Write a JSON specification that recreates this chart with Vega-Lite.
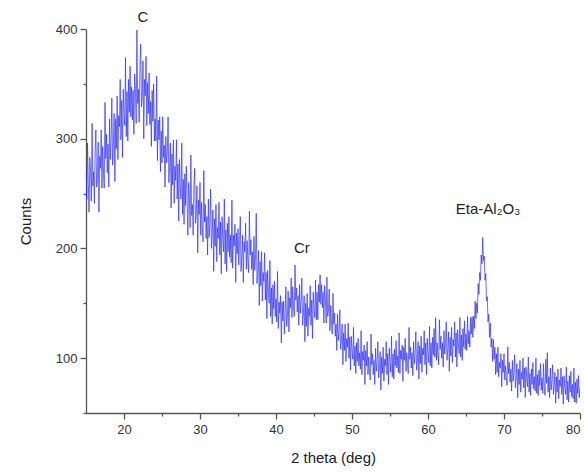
{
  "$schema": "https://vega.github.io/schema/vega-lite/v6.json",
  "autosize": {"type": "none"},
  "width": 494,
  "height": 384,
  "padding": {"left": 86, "top": 29, "right": 4, "bottom": 61},
  "background": "white",
  "config": {
    "view": {"stroke": null},
    "font": "Liberation Sans",
    "axis": {"domainColor": "#555", "tickColor": "#555", "labelColor": "#333", "titleColor": "#222", "labelFont": "Liberation Sans", "titleFont": "Liberation Sans", "labelFontSize": 13, "titleFontSize": 15, "titleFontWeight": "normal", "grid": false, "domainWidth": 1.3, "tickWidth": 1.3, "ticks": true}
  },
  "layer": [
    {
      "data": {"values": [
{"t":15.0,"c":273},{"t":15.1,"c":245},{"t":15.2,"c":296},{"t":15.3,"c":261},{"t":15.4,"c":233},{"t":15.5,"c":283},{"t":15.6,"c":271},{"t":15.7,"c":243},{"t":15.8,"c":314},{"t":15.9,"c":257},
{"t":16.0,"c":270},{"t":16.1,"c":241},{"t":16.2,"c":289},{"t":16.3,"c":308},{"t":16.4,"c":256},{"t":16.5,"c":265},{"t":16.6,"c":297},{"t":16.7,"c":233},{"t":16.8,"c":284},{"t":16.9,"c":273},
{"t":17.0,"c":308},{"t":17.1,"c":255},{"t":17.2,"c":293},{"t":17.3,"c":270},{"t":17.4,"c":255},{"t":17.5,"c":333},{"t":17.6,"c":282},{"t":17.7,"c":304},{"t":17.8,"c":269},{"t":17.9,"c":295},
{"t":18.0,"c":256},{"t":18.1,"c":318},{"t":18.2,"c":281},{"t":18.3,"c":299},{"t":18.4,"c":337},{"t":18.5,"c":276},{"t":18.6,"c":294},{"t":18.7,"c":323},{"t":18.8,"c":261},{"t":18.9,"c":318},
{"t":19.0,"c":291},{"t":19.1,"c":339},{"t":19.2,"c":281},{"t":19.3,"c":321},{"t":19.4,"c":311},{"t":19.5,"c":354},{"t":19.6,"c":299},{"t":19.7,"c":335},{"t":19.8,"c":283},{"t":19.9,"c":345},
{"t":20.0,"c":323},{"t":20.1,"c":312},{"t":20.2,"c":374},{"t":20.3,"c":302},{"t":20.4,"c":343},{"t":20.5,"c":298},{"t":20.6,"c":354},{"t":20.7,"c":324},{"t":20.8,"c":366},{"t":20.9,"c":320},
{"t":21.0,"c":347},{"t":21.1,"c":317},{"t":21.2,"c":344},{"t":21.3,"c":304},{"t":21.4,"c":359},{"t":21.5,"c":346},{"t":21.6,"c":314},{"t":21.7,"c":399},{"t":21.8,"c":332},{"t":21.9,"c":345},
{"t":22.0,"c":315},{"t":22.1,"c":366},{"t":22.2,"c":386},{"t":22.3,"c":329},{"t":22.4,"c":338},{"t":22.5,"c":371},{"t":22.6,"c":300},{"t":22.7,"c":354},{"t":22.8,"c":339},{"t":22.9,"c":375},
{"t":23.0,"c":312},{"t":23.1,"c":351},{"t":23.2,"c":323},{"t":23.3,"c":360},{"t":23.4,"c":313},{"t":23.5,"c":334},{"t":23.6,"c":293},{"t":23.7,"c":344},{"t":23.8,"c":316},{"t":23.9,"c":350},
{"t":24.0,"c":298},{"t":24.1,"c":318},{"t":24.2,"c":298},{"t":24.3,"c":357},{"t":24.4,"c":280},{"t":24.5,"c":317},{"t":24.6,"c":299},{"t":24.7,"c":320},{"t":24.8,"c":270},{"t":24.9,"c":307},
{"t":25.0,"c":278},{"t":25.1,"c":320},{"t":25.2,"c":283},{"t":25.3,"c":294},{"t":25.4,"c":256},{"t":25.5,"c":302},{"t":25.6,"c":278},{"t":25.7,"c":287},{"t":25.8,"c":320},{"t":25.9,"c":260},
{"t":26.0,"c":274},{"t":26.1,"c":296},{"t":26.2,"c":237},{"t":26.3,"c":286},{"t":26.4,"c":258},{"t":26.5,"c":299},{"t":26.6,"c":241},{"t":26.7,"c":275},{"t":26.8,"c":262},{"t":26.9,"c":299},
{"t":27.0,"c":245},{"t":27.1,"c":277},{"t":27.2,"c":225},{"t":27.3,"c":281},{"t":27.4,"c":257},{"t":27.5,"c":245},{"t":27.6,"c":296},{"t":27.7,"c":231},{"t":27.8,"c":263},{"t":27.9,"c":222},
{"t":28.0,"c":268},{"t":28.1,"c":239},{"t":28.2,"c":275},{"t":28.3,"c":244},{"t":28.4,"c":212},{"t":28.5,"c":260},{"t":28.6,"c":247},{"t":28.7,"c":219},{"t":28.8,"c":285},{"t":28.9,"c":230},
{"t":29.0,"c":240},{"t":29.1,"c":212},{"t":29.2,"c":256},{"t":29.3,"c":273},{"t":29.4,"c":223},{"t":29.5,"c":230},{"t":29.6,"c":257},{"t":29.7,"c":196},{"t":29.8,"c":244},{"t":29.9,"c":231},
{"t":30.0,"c":260},{"t":30.1,"c":212},{"t":30.2,"c":242},{"t":30.3,"c":220},{"t":30.4,"c":206},{"t":30.5,"c":271},{"t":30.6,"c":224},{"t":30.7,"c":240},{"t":30.8,"c":209},{"t":30.9,"c":229},
{"t":31.0,"c":194},{"t":31.1,"c":245},{"t":31.2,"c":210},{"t":31.3,"c":222},{"t":31.4,"c":254},{"t":31.5,"c":200},{"t":31.6,"c":212},{"t":31.7,"c":235},{"t":31.8,"c":179},{"t":31.9,"c":227},
{"t":32.0,"c":202},{"t":32.1,"c":240},{"t":32.2,"c":188},{"t":32.3,"c":219},{"t":32.4,"c":209},{"t":32.5,"c":242},{"t":32.6,"c":194},{"t":32.7,"c":224},{"t":32.8,"c":177},{"t":32.9,"c":229},
{"t":33.0,"c":209},{"t":33.1,"c":197},{"t":33.2,"c":245},{"t":33.3,"c":186},{"t":33.4,"c":217},{"t":33.5,"c":179},{"t":33.6,"c":223},{"t":33.7,"c":197},{"t":33.8,"c":229},{"t":33.9,"c":192},
{"t":34.0,"c":212},{"t":34.1,"c":187},{"t":34.2,"c":244},{"t":34.3,"c":182},{"t":34.4,"c":212},{"t":34.5,"c":202},{"t":34.6,"c":222},{"t":34.7,"c":169},{"t":34.8,"c":214},{"t":34.9,"c":195},
{"t":35.0,"c":218},{"t":35.1,"c":185},{"t":35.2,"c":204},{"t":35.3,"c":229},{"t":35.4,"c":179},{"t":35.5,"c":193},{"t":35.6,"c":212},{"t":35.7,"c":169},{"t":35.8,"c":206},{"t":35.9,"c":197},
{"t":36.0,"c":223},{"t":36.1,"c":181},{"t":36.2,"c":207},{"t":36.3,"c":189},{"t":36.4,"c":178},{"t":36.5,"c":234},{"t":36.6,"c":194},{"t":36.7,"c":208},{"t":36.8,"c":181},{"t":36.9,"c":197},
{"t":37.0,"c":167},{"t":37.1,"c":211},{"t":37.2,"c":180},{"t":37.3,"c":191},{"t":37.4,"c":232},{"t":37.5,"c":168},{"t":37.6,"c":178},{"t":37.7,"c":198},{"t":37.8,"c":148},{"t":37.9,"c":188},
{"t":38.0,"c":166},{"t":38.1,"c":197},{"t":38.2,"c":152},{"t":38.3,"c":178},{"t":38.4,"c":170},{"t":38.5,"c":196},{"t":38.6,"c":153},{"t":38.7,"c":178},{"t":38.8,"c":136},{"t":38.9,"c":180},
{"t":39.0,"c":161},{"t":39.1,"c":150},{"t":39.2,"c":189},{"t":39.3,"c":138},{"t":39.4,"c":164},{"t":39.5,"c":131},{"t":39.6,"c":167},{"t":39.7,"c":145},{"t":39.8,"c":170},{"t":39.9,"c":138},
{"t":40.0,"c":154},{"t":40.1,"c":133},{"t":40.2,"c":179},{"t":40.3,"c":127},{"t":40.4,"c":151},{"t":40.5,"c":141},{"t":40.6,"c":157},{"t":40.7,"c":114},{"t":40.8,"c":151},{"t":40.9,"c":134},
{"t":41.0,"c":152},{"t":41.1,"c":122},{"t":41.2,"c":141},{"t":41.3,"c":165},{"t":41.4,"c":129},{"t":41.5,"c":137},{"t":41.6,"c":161},{"t":41.7,"c":124},{"t":41.8,"c":155},{"t":41.9,"c":146},
{"t":42.0,"c":173},{"t":42.1,"c":137},{"t":42.2,"c":165},{"t":42.3,"c":148},{"t":42.4,"c":138},{"t":42.5,"c":185},{"t":42.6,"c":153},{"t":42.7,"c":164},{"t":42.8,"c":142},{"t":42.9,"c":157},
{"t":43.0,"c":130},{"t":43.1,"c":167},{"t":43.2,"c":141},{"t":43.3,"c":150},{"t":43.4,"c":173},{"t":43.5,"c":130},{"t":43.6,"c":139},{"t":43.7,"c":157},{"t":43.8,"c":115},{"t":43.9,"c":150},
{"t":44.0,"c":129},{"t":44.1,"c":159},{"t":44.2,"c":120},{"t":44.3,"c":146},{"t":44.4,"c":138},{"t":44.5,"c":166},{"t":44.6,"c":130},{"t":44.7,"c":153},{"t":44.8,"c":118},{"t":44.9,"c":160},
{"t":45.0,"c":145},{"t":45.1,"c":137},{"t":45.2,"c":171},{"t":45.3,"c":135},{"t":45.4,"c":160},{"t":45.5,"c":135},{"t":45.6,"c":167},{"t":45.7,"c":151},{"t":45.8,"c":176},{"t":45.9,"c":149},
{"t":46.0,"c":167},{"t":46.1,"c":146},{"t":46.2,"c":160},{"t":46.3,"c":132},{"t":46.4,"c":166},{"t":46.5,"c":154},{"t":46.6,"c":132},{"t":46.7,"c":174},{"t":46.8,"c":138},{"t":46.9,"c":143},
{"t":47.0,"c":163},{"t":47.1,"c":125},{"t":47.2,"c":148},{"t":47.3,"c":132},{"t":47.4,"c":122},{"t":47.5,"c":159},{"t":47.6,"c":131},{"t":47.7,"c":141},{"t":47.8,"c":120},{"t":47.9,"c":131},
{"t":48.0,"c":107},{"t":48.1,"c":140},{"t":48.2,"c":116},{"t":48.3,"c":124},{"t":48.4,"c":144},{"t":48.5,"c":108},{"t":48.6,"c":115},{"t":48.7,"c":131},{"t":48.8,"c":94},{"t":48.9,"c":123},
{"t":49.0,"c":107},{"t":49.1,"c":131},{"t":49.2,"c":97},{"t":49.3,"c":118},{"t":49.4,"c":110},{"t":49.5,"c":132},{"t":49.6,"c":100},{"t":49.7,"c":119},{"t":49.8,"c":89},{"t":49.9,"c":120},
{"t":50.0,"c":107},{"t":50.1,"c":99},{"t":50.2,"c":128},{"t":50.3,"c":93},{"t":50.4,"c":111},{"t":50.5,"c":86},{"t":50.6,"c":114},{"t":50.7,"c":97},{"t":50.8,"c":118},{"t":50.9,"c":93},
{"t":51.0,"c":105},{"t":51.1,"c":90},{"t":51.2,"c":125},{"t":51.3,"c":85},{"t":51.4,"c":106},{"t":51.5,"c":98},{"t":51.6,"c":112},{"t":51.7,"c":76},{"t":51.8,"c":107},{"t":51.9,"c":93},
{"t":52.0,"c":115},{"t":52.1,"c":85},{"t":52.2,"c":101},{"t":52.3,"c":89},{"t":52.4,"c":80},{"t":52.5,"c":122},{"t":52.6,"c":94},{"t":52.7,"c":104},{"t":52.8,"c":85},{"t":52.9,"c":98},
{"t":53.0,"c":76},{"t":53.1,"c":109},{"t":53.2,"c":88},{"t":53.3,"c":96},{"t":53.4,"c":115},{"t":53.5,"c":82},{"t":53.6,"c":91},{"t":53.7,"c":106},{"t":53.8,"c":71},{"t":53.9,"c":101},
{"t":54.0,"c":86},{"t":54.1,"c":110},{"t":54.2,"c":79},{"t":54.3,"c":99},{"t":54.4,"c":93},{"t":54.5,"c":115},{"t":54.6,"c":85},{"t":54.7,"c":104},{"t":54.8,"c":76},{"t":54.9,"c":109},
{"t":55.0,"c":96},{"t":55.1,"c":87},{"t":55.2,"c":120},{"t":55.3,"c":83},{"t":55.4,"c":104},{"t":55.5,"c":81},{"t":55.6,"c":108},{"t":55.7,"c":93},{"t":55.8,"c":116},{"t":55.9,"c":91},
{"t":56.0,"c":102},{"t":56.1,"c":87},{"t":56.2,"c":123},{"t":56.3,"c":86},{"t":56.4,"c":107},{"t":56.5,"c":99},{"t":56.6,"c":112},{"t":56.7,"c":79},{"t":56.8,"c":110},{"t":56.9,"c":98},
{"t":57.0,"c":118},{"t":57.1,"c":88},{"t":57.2,"c":105},{"t":57.3,"c":94},{"t":57.4,"c":86},{"t":57.5,"c":128},{"t":57.6,"c":99},{"t":57.7,"c":110},{"t":57.8,"c":91},{"t":57.9,"c":105},
{"t":58.0,"c":84},{"t":58.1,"c":115},{"t":58.2,"c":95},{"t":58.3,"c":104},{"t":58.4,"c":124},{"t":58.5,"c":89},{"t":58.6,"c":99},{"t":58.7,"c":115},{"t":58.8,"c":81},{"t":58.9,"c":111},
{"t":59.0,"c":95},{"t":59.1,"c":120},{"t":59.2,"c":87},{"t":59.3,"c":109},{"t":59.4,"c":103},{"t":59.5,"c":125},{"t":59.6,"c":94},{"t":59.7,"c":114},{"t":59.8,"c":85},{"t":59.9,"c":118},
{"t":60.0,"c":105},{"t":60.1,"c":96},{"t":60.2,"c":129},{"t":60.3,"c":93},{"t":60.4,"c":114},{"t":60.5,"c":91},{"t":60.6,"c":119},{"t":60.7,"c":103},{"t":60.8,"c":127},{"t":60.9,"c":101},
{"t":61.0,"c":137},{"t":61.1,"c":98},{"t":61.2,"c":114},{"t":61.3,"c":103},{"t":61.4,"c":94},{"t":61.5,"c":135},{"t":61.6,"c":108},{"t":61.7,"c":120},{"t":61.8,"c":100},{"t":61.9,"c":114},
{"t":62.0,"c":92},{"t":62.1,"c":125},{"t":62.2,"c":104},{"t":62.3,"c":113},{"t":62.4,"c":133},{"t":62.5,"c":98},{"t":62.6,"c":108},{"t":62.7,"c":124},{"t":62.8,"c":88},{"t":62.9,"c":119},
{"t":63.0,"c":102},{"t":63.1,"c":128},{"t":63.2,"c":96},{"t":63.3,"c":117},{"t":63.4,"c":111},{"t":63.5,"c":133},{"t":63.6,"c":101},{"t":63.7,"c":123},{"t":63.8,"c":92},{"t":63.9,"c":126},
{"t":64.0,"c":113},{"t":64.1,"c":104},{"t":64.2,"c":137},{"t":64.3,"c":101},{"t":64.4,"c":121},{"t":64.5,"c":98},{"t":64.6,"c":127},{"t":64.7,"c":110},{"t":64.8,"c":134},{"t":64.9,"c":108},
{"t":65.0,"c":122},{"t":65.1,"c":107},{"t":65.2,"c":138},{"t":65.3,"c":113},{"t":65.4,"c":125},{"t":65.5,"c":110},{"t":65.6,"c":137},{"t":65.7,"c":122},{"t":65.8,"c":138},{"t":65.9,"c":119},
{"t":66.0,"c":138},{"t":66.1,"c":127},{"t":66.2,"c":152},{"t":66.3,"c":136},{"t":66.4,"c":150},{"t":66.5,"c":141},{"t":66.6,"c":168},{"t":66.7,"c":158},{"t":66.8,"c":178},{"t":66.9,"c":171},
{"t":67.0,"c":194},{"t":67.1,"c":186},{"t":67.2,"c":210},{"t":67.3,"c":189},{"t":67.4,"c":193},{"t":67.5,"c":171},{"t":67.6,"c":177},{"t":67.7,"c":152},{"t":67.8,"c":156},{"t":67.9,"c":133},
{"t":68.0,"c":140},{"t":68.1,"c":119},{"t":68.2,"c":132},{"t":68.3,"c":110},{"t":68.4,"c":118},{"t":68.5,"c":97},{"t":68.6,"c":117},{"t":68.7,"c":99},{"t":68.8,"c":110},{"t":68.9,"c":85},
{"t":69.0,"c":104},{"t":69.1,"c":87},{"t":69.2,"c":110},{"t":69.3,"c":83},{"t":69.4,"c":96},{"t":69.5,"c":91},{"t":69.6,"c":104},{"t":69.7,"c":74},{"t":69.8,"c":98},{"t":69.9,"c":87},
{"t":70.0,"c":104},{"t":70.1,"c":80},{"t":70.2,"c":93},{"t":70.3,"c":83},{"t":70.4,"c":75},{"t":70.5,"c":110},{"t":70.6,"c":86},{"t":70.7,"c":96},{"t":70.8,"c":78},{"t":70.9,"c":90},
{"t":71.0,"c":70},{"t":71.1,"c":98},{"t":71.2,"c":79},{"t":71.3,"c":87},{"t":71.4,"c":103},{"t":71.5,"c":73},{"t":71.6,"c":81},{"t":71.7,"c":95},{"t":71.8,"c":64},{"t":71.9,"c":90},
{"t":72.0,"c":76},{"t":72.1,"c":98},{"t":72.2,"c":69},{"t":72.3,"c":87},{"t":72.4,"c":81},{"t":72.5,"c":100},{"t":72.6,"c":73},{"t":72.7,"c":91},{"t":72.8,"c":64},{"t":72.9,"c":92},
{"t":73.0,"c":81},{"t":73.1,"c":74},{"t":73.2,"c":101},{"t":73.3,"c":69},{"t":73.4,"c":86},{"t":73.5,"c":66},{"t":73.6,"c":90},{"t":73.7,"c":76},{"t":73.8,"c":96},{"t":73.9,"c":72},
{"t":74.0,"c":83},{"t":74.1,"c":70},{"t":74.2,"c":100},{"t":74.3,"c":68},{"t":74.4,"c":85},{"t":74.5,"c":66},{"t":74.6,"c":89},{"t":74.7,"c":75},{"t":74.8,"c":95},{"t":74.9,"c":71},
{"t":75.0,"c":82},{"t":75.1,"c":68},{"t":75.2,"c":95},{"t":75.3,"c":73},{"t":75.4,"c":66},{"t":75.5,"c":99},{"t":75.6,"c":77},{"t":75.7,"c":105},{"t":75.8,"c":69},{"t":75.9,"c":83},
{"t":76.0,"c":64},{"t":76.1,"c":91},{"t":76.2,"c":71},{"t":76.3,"c":79},{"t":76.4,"c":94},{"t":76.5,"c":67},{"t":76.6,"c":74},{"t":76.7,"c":87},{"t":76.8,"c":59},{"t":76.9,"c":83},
{"t":77.0,"c":69},{"t":77.1,"c":90},{"t":77.2,"c":63},{"t":77.3,"c":80},{"t":77.4,"c":74},{"t":77.5,"c":91},{"t":77.6,"c":67},{"t":77.7,"c":83},{"t":77.8,"c":58},{"t":77.9,"c":84},
{"t":78.0,"c":74},{"t":78.1,"c":67},{"t":78.2,"c":92},{"t":78.3,"c":62},{"t":78.4,"c":79},{"t":78.5,"c":60},{"t":78.6,"c":84},{"t":78.7,"c":69},{"t":78.8,"c":88},{"t":78.9,"c":65},
{"t":79.0,"c":76},{"t":79.1,"c":63},{"t":79.2,"c":91},{"t":79.3,"c":60},{"t":79.4,"c":78},{"t":79.5,"c":59},{"t":79.6,"c":81},{"t":79.7,"c":68},{"t":79.8,"c":84},{"t":79.9,"c":64},
{"t":80.0,"c":73}
      ]},
      "mark": {"type": "line", "color": "#2a2af2", "strokeWidth": 0.85, "opacity": 0.8, "clip": true},
      "encoding": {
        "x": {"field": "t", "type": "quantitative", "scale": {"domain": [15, 80], "nice": false, "zero": false},
          "axis": {"title": "2 theta (deg)", "values": [20,25,30,35,40,45,50,55,60,65,70,75,80],
            "labelExpr": "datum.value % 10 === 0 ? datum.label : ''",
            "tickSize": {"condition": {"test": "datum.value % 10 === 0", "value": 6}, "value": 3},
            "labelPadding": 4, "titlePadding": 14}},
        "y": {"field": "c", "type": "quantitative", "scale": {"domain": [50, 400], "nice": false, "zero": false},
          "axis": {"title": "Counts", "values": [50,100,150,200,250,300,350,400],
            "labelExpr": "datum.value % 100 === 0 ? datum.label : ''",
            "tickSize": {"condition": {"test": "datum.value % 100 === 0", "value": 6}, "value": 3},
            "labelPadding": 3, "titlePadding": 22}}
      }
    },
    {
      "data": {"values": [
        {"t": 22.5, "c": 411, "label": "C"},
        {"t": 43.4, "c": 200, "label": "Cr"},
        {"t": 67.9, "c": 236, "label": "Eta-Al₂O₃"}
      ]},
      "mark": {"type": "text", "fontSize": 15, "color": "#222", "font": "Liberation Sans", "baseline": "middle", "align": "center"},
      "encoding": {
        "x": {"field": "t", "type": "quantitative"},
        "y": {"field": "c", "type": "quantitative"},
        "text": {"field": "label"}
      }
    }
  ]
}
